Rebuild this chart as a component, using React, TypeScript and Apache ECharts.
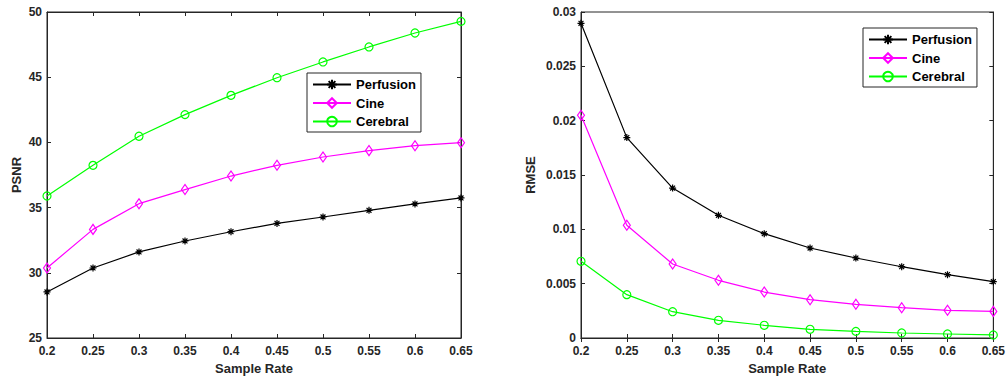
import React, { useEffect, useRef } from "react";
import * as echarts from "echarts";

const sampleRates = [0.2, 0.25, 0.3, 0.35, 0.4, 0.45, 0.5, 0.55, 0.6, 0.65];
const seriesNames = ["Perfusion", "Cine", "Cerebral"];

const psnrPerfusion = [28.53, 30.37, 31.6, 32.44, 33.15, 33.79, 34.28, 34.79, 35.28, 35.74];
const psnrCine = [30.37, 33.33, 35.3, 36.38, 37.42, 38.24, 38.88, 39.37, 39.75, 39.98];
const psnrCerebral = [35.89, 38.24, 40.47, 42.13, 43.61, 44.96, 46.17, 47.32, 48.39, 49.28];

const rmsePerfusion = [0.02896, 0.01844, 0.0138, 0.01129, 0.0096, 0.00828, 0.00736, 0.00656, 0.00583, 0.00518];
const rmseCine = [0.02049, 0.01037, 0.00681, 0.00531, 0.00423, 0.00353, 0.0031, 0.00279, 0.00255, 0.00245];
const rmseCerebral = [0.00706, 0.00399, 0.00242, 0.00163, 0.00117, 0.0008, 0.00061, 0.00046, 0.00037, 0.00028];

const psnrTicks = { min: 25, max: 50, interval: 5 };
const rmseTicks = { min: 0, max: 0.03, interval: 0.005 };
const xTicks = { min: 0.2, max: 0.65, interval: 0.05 };

const COLORS = ["#000000", "#ff00ff", "#00ff00"];
const ASTERISK = "path://M5,0L5,10M0,5L10,5M1.5,1.5L8.5,8.5M1.5,8.5L8.5,1.5";
const SYMBOLS: any[] = [ASTERISK, "diamond", "circle"];
const SYMBOL_SIZES: any[] = [7, [7, 10], 8];
const FONT = "'Liberation Sans', Arial, sans-serif";
const AXIS_COLOR = "#262626";

function fmt(v: number) {
  return String(parseFloat(v.toFixed(4)));
}

export default function App() {
  const ref = useRef<HTMLDivElement>(null);
  useEffect(() => {
    if (!ref.current) return;
    const chart = echarts.init(ref.current, undefined, { renderer: "svg" });

    const grids = [
      { left: 47, top: 12, width: 414, height: 326, show: true, borderColor: AXIS_COLOR, borderWidth: 1, backgroundColor: "#fff" },
      { left: 581, top: 12, width: 414, height: 326, show: true, borderColor: AXIS_COLOR, borderWidth: 1, backgroundColor: "#fff" },
    ];

    const labelStyle = { fontFamily: FONT, fontWeight: "bold" as const, fontSize: 12, color: AXIS_COLOR };
    const nameStyle = { fontFamily: FONT, fontWeight: "bold" as const, fontSize: 13, color: AXIS_COLOR };
    const tick = { show: true, inside: true, length: 4, lineStyle: { color: AXIS_COLOR, width: 1 } };
    const line = { show: true, lineStyle: { color: AXIS_COLOR, width: 1 } };

    const xAxes: any[] = [];
    const yAxes: any[] = [];
    [0, 1].forEach((g) => {
      xAxes.push({
        type: "value", gridIndex: g, position: "bottom", ...xTicks,
        name: "Sample Rate", nameLocation: "middle", nameGap: 24, nameTextStyle: nameStyle,
        axisLine: line, axisTick: tick, splitLine: { show: false },
        axisLabel: { ...labelStyle, margin: 7, formatter: (v: number) => fmt(v) },
      });
      xAxes.push({
        type: "value", gridIndex: g, position: "top", ...xTicks,
        axisLine: line, axisTick: tick, splitLine: { show: false }, axisLabel: { show: false },
      });
      const yt = g === 0 ? psnrTicks : rmseTicks;
      yAxes.push({
        type: "value", gridIndex: g, position: "left", ...yt,
        name: g === 0 ? "PSNR" : "RMSE", nameLocation: "middle", nameGap: g === 0 ? 24 : 44, nameTextStyle: nameStyle,
        axisLine: line, axisTick: tick, splitLine: { show: false },
        axisLabel: { ...labelStyle, margin: 5, formatter: (v: number) => fmt(v) },
      });
      yAxes.push({
        type: "value", gridIndex: g, position: "right", ...yt,
        axisLine: line, axisTick: tick, splitLine: { show: false }, axisLabel: { show: false },
      });
    });

    const data = [
      [psnrPerfusion, psnrCine, psnrCerebral],
      [rmsePerfusion, rmseCine, rmseCerebral],
    ];
    const series: any[] = [];
    data.forEach((set, g) => {
      set.forEach((vals, i) => {
        series.push({
          type: "line",
          name: seriesNames[i],
          xAxisIndex: g * 2,
          yAxisIndex: g * 2,
          data: sampleRates.map((x, k) => [x, vals[k]]),
          symbol: SYMBOLS[i],
          symbolSize: SYMBOL_SIZES[i],
          showAllSymbol: true,
          lineStyle: { color: COLORS[i], width: 1.2 },
          itemStyle: { color: i === 0 ? COLORS[i] : "rgba(0,0,0,0)", borderColor: COLORS[i], borderWidth: 1.2 },
          emphasis: { disabled: true },
          z: 3 + i,
        });
      });
    });

    const legendBase = {
      orient: "vertical",
      data: seriesNames,
      itemWidth: 38,
      itemHeight: 12,
      itemGap: 5.5,
      padding: [5, 5, 4, 5],
      backgroundColor: "#fff",
      borderColor: AXIS_COLOR,
      borderWidth: 1,
      textStyle: { fontFamily: FONT, fontWeight: "bold", fontSize: 13, color: "#000" },
      selectedMode: false,
    };

    chart.setOption({
      animation: false,
      backgroundColor: "#fff",
      grid: grids,
      xAxis: xAxes,
      yAxis: yAxes,
      legend: [
        { ...legendBase, left: 307, top: 73 },
        { ...legendBase, left: 863, top: 28 },
      ],
      series,
    });
    return () => chart.dispose();
  }, []);
  return (
    <div
      ref={ref}
      style={{ position: "absolute", left: 0, top: 0, width: 1008, height: 383, background: "#fff" }}
    />
  );
}
